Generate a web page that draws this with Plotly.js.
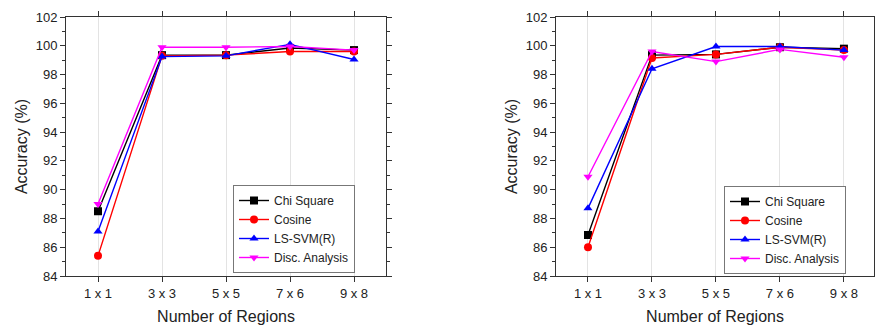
<!DOCTYPE html>
<html>
<head>
<meta charset="utf-8">
<script src="https://cdn.plot.ly/plotly-3.0.1.min.js"></script>
<style>html,body{margin:0;padding:0;background:#fff}#chart{width:875px;height:327px}</style>
</head>
<body>
<div id="chart"></div>
<script>
const categories = ["1 x 1", "3 x 3", "5 x 5", "7 x 6", "9 x 8"];
const seriesNames = ["Chi Square", "Cosine", "LS-SVM(R)", "Disc. Analysis"];

// Left panel
const leftChi    = [88.5, 99.35, 99.35, 99.85, 99.7];
const leftCosine = [85.4, 99.3, 99.35, 99.6, 99.6];
const leftLSSVM  = [87.1, 99.25, 99.3, 100.1, 99.05];
const leftDisc   = [89.0, 99.9, 99.9, 99.95, 99.7];

// Right panel
const rightChi    = [86.85, 99.35, 99.4, 99.9, 99.8];
const rightCosine = [86.0, 99.15, 99.4, 99.9, 99.7];
const rightLSSVM  = [88.7, 98.4, 99.95, 99.95, 99.7];
const rightDisc   = [90.9, 99.6, 98.9, 99.75, 99.2];

const colors = ["#000000", "#ff0000", "#0000ff", "#ff00ff"];
const symbols = ["square", "circle", "triangle-up", "triangle-down"];

const leftData = [leftChi, leftCosine, leftLSSVM, leftDisc];
const rightData = [rightChi, rightCosine, rightLSSVM, rightDisc];

const traces = [];
function addPanel(data, xa, ya, leg) {
  data.forEach((vals, i) => {
    traces.push({
      x: categories, y: vals, name: seriesNames[i],
      type: "scatter", mode: "lines+markers",
      xaxis: xa, yaxis: ya, legend: leg,
      line: {color: colors[i], width: 1.4},
      marker: {symbol: symbols[i], color: colors[i], size: 8}
    });
  });
}
addPanel(leftData, "x", "y", "legend");
addPanel(rightData, "x2", "y2", "legend2");

const font = {family: "Liberation Sans, Arial, sans-serif", color: "#222"};

function xAxis(domain, range, anchor) {
  return {
    domain: domain, anchor: anchor, type: "category", range: range,
    showline: true, linecolor: "#333", linewidth: 1, mirror: "ticks",
    ticks: "outside", ticklen: 5, tickcolor: "#333",
    showgrid: true, gridcolor: "#e3e3e3", gridwidth: 1,
    zeroline: false,
    tickfont: {size: 13, family: font.family, color: "#222"},
    title: {text: "Number of Regions", font: {size: 16, family: font.family, color: "#222"}, standoff: 11},
    automargin: false, fixedrange: true
  };
}
function yAxis(anchor) {
  return {
    domain: [51/327, 310/327], anchor: anchor, range: [84, 102],
    dtick: 2, tick0: 84,
    showline: true, linecolor: "#333", linewidth: 1, mirror: "ticks",
    ticks: "outside", ticklen: 5, tickcolor: "#333",
    minor: {dtick: 1, ticks: "outside", ticklen: 3, tickcolor: "#333"},
    showgrid: false, zeroline: false,
    tickfont: {size: 13, family: font.family, color: "#222"},
    title: {text: "Accuracy (%)", font: {size: 16, family: font.family, color: "#222"}, standoff: 4},
    automargin: false, fixedrange: true
  };
}

const legendStyle = {
  bgcolor: "#ffffff", bordercolor: "#777", borderwidth: 1,
  font: {size: 12, family: font.family, color: "#222"},
  xanchor: "left", yanchor: "top", tracegroupgap: 0, itemwidth: 30
};

const layout = {
  width: 875, height: 327,
  margin: {l: 0, r: 0, t: 0, b: 0},
  paper_bgcolor: "#ffffff", plot_bgcolor: "#ffffff",
  font: font,
  showlegend: true,
  xaxis: xAxis([66/875, 386/875], [-0.5, 4.5], "y"),
  yaxis: yAxis("x"),
  xaxis2: xAxis([556/875, 874/875], [-0.5, 4.47], "y2"),
  yaxis2: yAxis("x2"),
  legend: Object.assign({x: 233/875, y: 1 - 185/327}, legendStyle),
  legend2: Object.assign({x: 724/875, y: 1 - 186/327}, legendStyle)
};

Plotly.newPlot("chart", traces, layout, {staticPlot: true, displayModeBar: false});
</script>
</body>
</html>
